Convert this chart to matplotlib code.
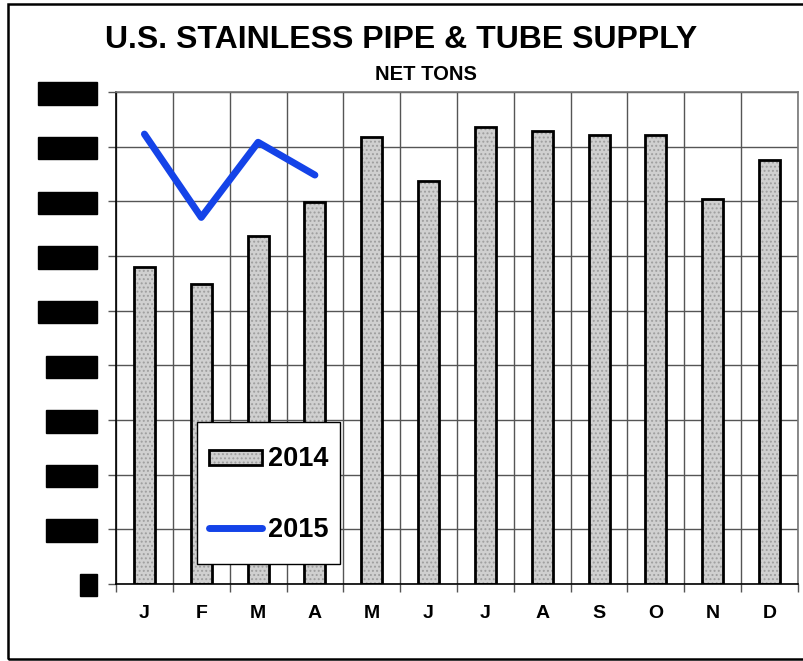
import matplotlib
matplotlib.use('Agg')
import matplotlib.pyplot as plt
import numpy as np
from matplotlib.patches import Rectangle
from matplotlib.legend_handler import HandlerBase
from matplotlib.lines import Line2D

# ---------------- data ----------------
months = ['J', 'F', 'M', 'A', 'M', 'J', 'J', 'A', 'S', 'O', 'N', 'D']
supply_2014 = [116000, 109700, 127400, 139900, 163600, 147300,
               167300, 165600, 164400, 164400, 141000, 155000]
supply_2015 = [164600, 134100, 161600, 149600]
y_ticks = [0, 20000, 40000, 60000, 80000, 100000, 120000, 140000, 160000, 180000]
y_tick_labels = ['0', '20,000', '40,000', '60,000', '80,000',
                 '100,000', '120,000', '140,000', '160,000', '180,000']
series_names = ['2014', '2015']

# ---------------- style ----------------
plt.rcParams['font.family'] = ['Liberation Sans', 'DejaVu Sans']
plt.rcParams['hatch.linewidth'] = 0.9
FILL = '#d0d0d0'
HATCH = '#9e9e9e'
BLUE = '#1443e8'
GRID = '#555555'

W, H = 804, 661
fig = plt.figure(figsize=(W / 100, H / 100), dpi=100)
ax = fig.add_axes([116 / W, 1 - 583.8 / H, (798 - 116) / W, (583.8 - 92) / H])

x = np.arange(len(months))
bw = 0.37
ax.bar(x, supply_2014, width=bw, color=FILL, edgecolor=HATCH, hatch='....',
       linewidth=0, zorder=2)
ax.bar(x, supply_2014, width=bw, fill=False, edgecolor='black', linewidth=2, zorder=3)
ax.plot(x[:len(supply_2015)], supply_2015, color=BLUE, lw=5,
        solid_capstyle='round', solid_joinstyle='round', zorder=4)

ax.set_xlim(-0.5, len(months) - 0.5)
ax.set_ylim(0, 180000)
ax.set_axisbelow(True)

# x axis
ax.set_xticks(x)
ax.set_xticklabels(months, fontsize=14, fontweight='bold')
ax.tick_params(axis='x', which='major', length=0, pad=15)
ax.set_xticks(np.arange(-0.5, len(months), 1), minor=True)
ax.tick_params(axis='x', which='minor', length=6, width=1, color=GRID)
ax.grid(axis='x', which='minor', color=GRID, lw=1)
ax.grid(axis='y', which='major', color=GRID, lw=1)

# y axis (labels hidden behind black boxes, as in the reference)
ax.set_yticks(y_ticks)
ax.set_yticklabels(y_tick_labels, fontsize=10, color='black')
ax.tick_params(axis='y', length=6, width=1, pad=11.0, color=GRID)
for lbl in ax.get_yticklabels():
    lbl.set_bbox(dict(facecolor='black', edgecolor='black', boxstyle='square,pad=0.3'))

for s in ['top', 'right']:
    ax.spines[s].set_color('#777777')
    ax.spines[s].set_linewidth(1.2)
for s in ['left', 'bottom']:
    ax.spines[s].set_color('black')
    ax.spines[s].set_linewidth(1.2)

# titles
fig.text(401 / W, 1 - 39.5 / H, 'U.S. STAINLESS PIPE & TUBE SUPPLY',
         ha='center', va='center', fontsize=23, fontweight='bold')
fig.text(425.5 / W, 1 - 74.5 / H, 'NET TONS',
         ha='center', va='center', fontsize=14.5, fontweight='bold')


# legend
class BarHandler(HandlerBase):
    def create_artists(self, legend, orig_handle, xdescent, ydescent,
                       width, height, fontsize, trans):
        h = 0.55 * fontsize
        y0 = -ydescent + (height - h) / 2
        r1 = Rectangle((-xdescent, y0), width, h, facecolor=FILL, edgecolor=HATCH,
                       hatch='....', lw=0, transform=trans)
        r2 = Rectangle((-xdescent, y0), width, h, fill=False, edgecolor='black',
                       lw=2, transform=trans)
        return [r1, r2]


class LineHandler(HandlerBase):
    def create_artists(self, legend, orig_handle, xdescent, ydescent,
                       width, height, fontsize, trans):
        yc = -ydescent + height / 2
        ln = Line2D([-xdescent, -xdescent + width], [yc, yc], color=BLUE, lw=5,
                    solid_capstyle='round', transform=trans)
        return [ln]


bar_proxy = Rectangle((0, 0), 1, 1)
line_proxy = Line2D([0], [0], color=BLUE, lw=5)
leg = ax.legend([bar_proxy, line_proxy], series_names,
                handler_map={bar_proxy: BarHandler(), line_proxy: LineHandler()},
                loc='upper left', bbox_to_anchor=(197.3 / W, 1 - 422.3 / H),
                bbox_transform=fig.transFigure, borderaxespad=0,
                prop={'size': 19.5, 'weight': 'bold'},
                borderpad=0.45, handlelength=1.93, handleheight=2.25,
                handletextpad=0.22, labelspacing=0.9,
                fancybox=False, framealpha=1, edgecolor='black')
leg.get_frame().set_linewidth(1)
leg.set_zorder(6)

# outer frame
fig.add_artist(Rectangle((8 / W, 2 / H), 900 / W, 655 / H, fill=False,
                         edgecolor='black', lw=1.8, transform=fig.transFigure,
                         clip_on=False))

fig.savefig('out.png', dpi=100)
